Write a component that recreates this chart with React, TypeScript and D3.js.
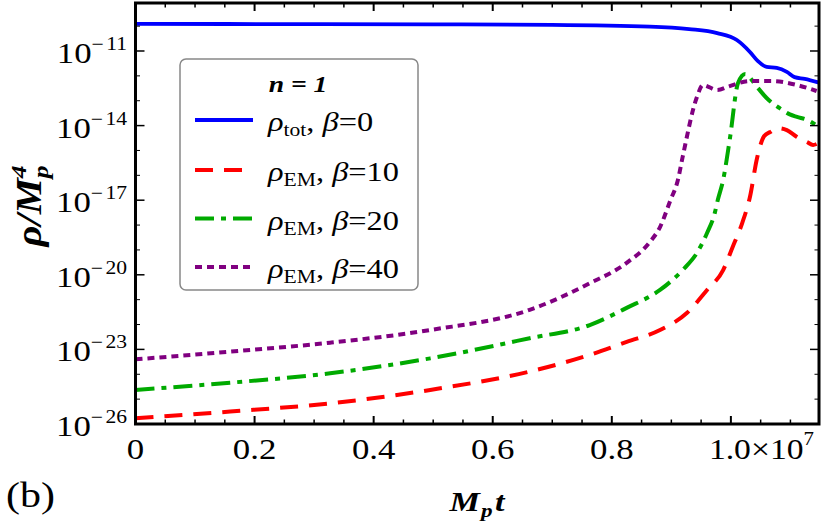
import * as d3 from 'd3';

// time in units of 10^7 / M_p, values as log10(rho / M_p^4)
const totT = [0, 0.3, 0.5, 0.7, 0.864, 0.93, 0.977, 1.01, 1.032, 1.045, 1.06, 1.077, 1.094, 1.107, 1.124, 1.148];
const totLog = [-9.91, -9.92, -9.93, -9.95, -10.02, -10.12, -10.28, -10.56, -11.04, -11.4, -11.64, -11.68, -11.84, -12.05, -12.12, -12.27];

const em10T = [0, 0.159, 0.327, 0.495, 0.662, 0.763, 0.825, 0.881, 0.926, 0.96, 0.987, 1.003, 1.019, 1.032, 1.044, 1.056, 1.066, 1.079, 1.094, 1.111, 1.128, 1.138, 1.144];
const em10Log = [-25.77, -25.5, -25.17, -24.63, -23.89, -23.22, -22.7, -22.22, -21.54, -20.61, -19.81, -18.88, -17.92, -16.87, -15.3, -14.42, -14.26, -14.1, -14.18, -14.46, -14.66, -14.78, -14.74];

const em20T = [0, 0.159, 0.327, 0.495, 0.662, 0.763, 0.825, 0.881, 0.919, 0.943, 0.96, 0.973, 0.978, 0.987, 0.998, 1.012, 1.024, 1.044, 1.06, 1.082, 1.099, 1.111, 1.128, 1.148];
const em20Log = [-24.63, -24.34, -23.96, -23.36, -22.55, -22.02, -21.33, -20.61, -19.81, -19.12, -18.32, -17.51, -16.99, -16.19, -14.58, -12.29, -11.93, -12.45, -12.89, -13.3, -13.55, -13.65, -13.77, -14.06];

const em40T = [0, 0.159, 0.327, 0.495, 0.662, 0.763, 0.825, 0.864, 0.881, 0.898, 0.911, 0.919, 0.943, 0.953, 0.977, 0.998, 1.032, 1.07, 1.111, 1.144];
const em40Log = [-23.4, -23.09, -22.73, -22.22, -21.41, -20.34, -19.52, -18.68, -18.08, -17.03, -16.19, -15.26, -12.85, -12.37, -12.57, -12.41, -12.21, -12.21, -12.37, -12.61];

const xMajor = [0, 0.2, 0.4, 0.6, 0.8, 1.0];
const xLabels = ['0', '0.2', '0.4', '0.6', '0.8', '1.0'];
const yMajor = [-26, -23, -20, -17, -14, -11];

const series = [
  { t: totT, v: totLog, color: '#0000ff', dash: '', width: 3.8, sub: 'tot', beta: '0' },
  { t: em10T, v: em10Log, color: '#ff0000', dash: '18,11', width: 4, sub: 'EM', beta: '10' },
  { t: em20T, v: em20Log, color: '#00aa00', dash: '19,7,5,7', width: 4, sub: 'EM', beta: '20' },
  { t: em40T, v: em40Log, color: '#800080', dash: '7,5', width: 4, sub: 'EM', beta: '40' },
];

const font = '"Liberation Serif", "Times New Roman", serif';
// the reference text is a bit wider than plain Times
const SX = 1.2;

export default function App() {
  const left = 135.5;
  const right = 819;
  const top = 3;
  const bottom = 424;

  const x = d3.scaleLinear().domain([0, 1.148]).range([left, right]);
  const y = d3.scaleLog().domain([1e-26, Math.pow(10, -9.07)]).range([bottom, top]);

  const xMinor = d3.range(0, 1.15, 0.05).filter((d) => !xMajor.some((m) => Math.abs(m - d) < 1e-6));
  const yMinor = d3.range(-26, -9).filter((d) => !yMajor.includes(d));

  const line = (t: number[], v: number[]) =>
    d3
      .line<number>()
      .x((_, i) => x(t[i]))
      .y((d) => y(Math.pow(10, d)))
      .curve(d3.curveMonotoneX)(v) ?? '';

  const at = (px: number, py: number, sx = SX) => `translate(${px},${py}) scale(${sx},1)`;
  const legendYs = [120, 170, 218.5, 267];

  return (
    <svg
      width={825}
      height={525}
      viewBox="0 0 825 525"
      style={{ position: 'absolute', left: 0, top: 0, background: '#fff' }}
      fontFamily={font}
    >
      <defs>
        <clipPath id="plot">
          <rect x={left} y={top} width={right - left} height={bottom - top} />
        </clipPath>
      </defs>

      <g clipPath="url(#plot)">
        {series.map((s, i) => (
          <path
            key={i}
            d={line(s.t, s.v)}
            fill="none"
            stroke={s.color}
            strokeWidth={s.width}
            strokeDasharray={s.dash || undefined}
          />
        ))}
      </g>

      {/* frame */}
      <rect x={left} y={top} width={right - left} height={bottom - top} fill="none" stroke="#000" strokeWidth={3} />

      {/* x ticks, bottom and top */}
      {xMajor.map((d) => (
        <g key={'xM' + d}>
          <line x1={x(d)} x2={x(d)} y1={bottom} y2={bottom - 8} stroke="#000" strokeWidth={2} />
          <line x1={x(d)} x2={x(d)} y1={top} y2={top + 8} stroke="#000" strokeWidth={2} />
        </g>
      ))}
      {xMinor.map((d) => (
        <g key={'xm' + d}>
          <line x1={x(d)} x2={x(d)} y1={bottom} y2={bottom - 4.5} stroke="#000" strokeWidth={1.5} />
          <line x1={x(d)} x2={x(d)} y1={top} y2={top + 4.5} stroke="#000" strokeWidth={1.5} />
        </g>
      ))}
      {/* y ticks, left and right */}
      {yMajor.map((d) => (
        <g key={'yM' + d}>
          <line x1={left} x2={left + 9} y1={y(Math.pow(10, d))} y2={y(Math.pow(10, d))} stroke="#000" strokeWidth={1.5} />
          <line x1={right} x2={right - 9} y1={y(Math.pow(10, d))} y2={y(Math.pow(10, d))} stroke="#000" strokeWidth={1.5} />
        </g>
      ))}
      {yMinor.map((d) => (
        <g key={'ym' + d}>
          <line x1={left} x2={left + 4.5} y1={y(Math.pow(10, d))} y2={y(Math.pow(10, d))} stroke="#000" strokeWidth={1} />
          <line x1={right} x2={right - 4.5} y1={y(Math.pow(10, d))} y2={y(Math.pow(10, d))} stroke="#000" strokeWidth={1} />
        </g>
      ))}

      {/* tick labels */}
      {xMajor.map((d, i) =>
        i < xMajor.length - 1 ? (
          <text key={'xl' + d} transform={at(x(d), 459)} textAnchor="middle" fontSize={29}>
            {xLabels[i]}
          </text>
        ) : (
          <text key={'xl' + d} transform={at(x(d) - 22, 459, 1.16)} fontSize={29}>
            {xLabels[i]}×10<tspan dy={-14} fontSize={18}>7</tspan>
          </text>
        )
      )}
      {yMajor.map((d) => (
        <text key={'yl' + d} transform={at(127, y(Math.pow(10, d)) + 12)} textAnchor="end" fontSize={29}>
          10<tspan dy={-13} fontSize={18}>{'\u2212'}</tspan>
          <tspan dx={2} fontSize={18}>{Math.abs(d)}</tspan>
        </text>
      ))}

      {/* axis labels */}
      <text transform={at(477, 511, 1.22)} textAnchor="middle" fontSize={28} fontWeight="bold" fontStyle="italic">
        M<tspan dx={1} dy={6} fontSize={19}>p</tspan>
        <tspan dx={2} dy={-6}>t</tspan>
      </text>
      <text
        transform="translate(41,206) rotate(-90) scale(1.16,1)"
        textAnchor="middle"
        fontSize={35}
        fontWeight="bold"
        fontStyle="italic"
      >
        ρ/M<tspan dy={7} fontSize={22}>p</tspan>
        <tspan dx={-11} dy={-22} fontSize={22}>4</tspan>
      </text>
      <text transform={at(6, 507)} fontSize={35}>
        (b)
      </text>

      {/* legend */}
      <rect x={180} y={59} width={238} height={231} rx={6} fill="#fff" stroke="#888" strokeWidth={1.5} />
      <text transform={at(298, 92)} textAnchor="middle" fontSize={23} fontWeight="bold" fontStyle="italic">
        n = 1
      </text>
      {series.map((s, i) => (
        <g key={'lg' + i}>
          <line
            x1={195}
            x2={253}
            y1={legendYs[i]}
            y2={legendYs[i]}
            stroke={s.color}
            strokeWidth={s.width}
            strokeDasharray={s.dash || undefined}
          />
          <text transform={at(268, legendYs[i] + 11)} fontSize={27}>
            <tspan fontStyle="italic">ρ</tspan>
            <tspan dy={5} fontSize={18}>
              {s.sub}
            </tspan>
            <tspan dy={-5}>, </tspan>
            <tspan fontStyle="italic">β</tspan>={s.beta}
          </text>
        </g>
      ))}
    </svg>
  );
}
